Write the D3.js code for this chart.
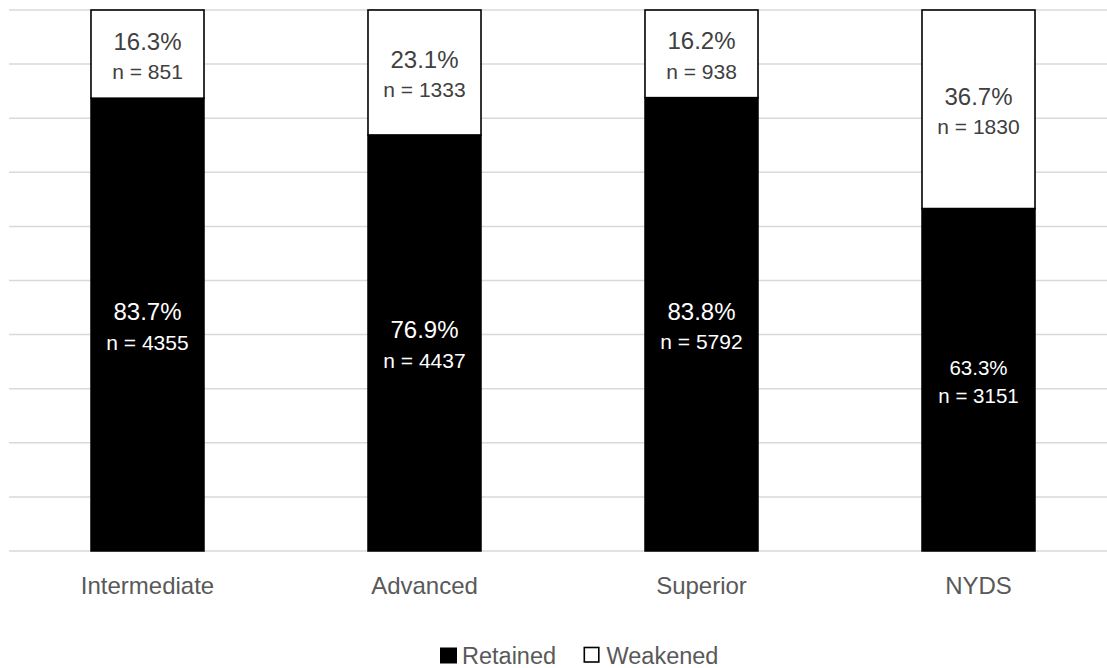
<!DOCTYPE html>
<html>
<head>
<meta charset="utf-8">
<script src="https://cdn.jsdelivr.net/npm/d3@7/dist/d3.min.js"></script>
<style>
  html, body { margin: 0; padding: 0; background: #fff; }
  svg { display: block; font-family: "Liberation Sans", Arial, sans-serif; }
</style>
</head>
<body>
<svg id="chart" width="1107" height="668"></svg>
<script>
// Proficiency levels and the share of speakers in each group
const categories = ["Intermediate", "Advanced", "Superior", "NYDS"];
const retainedPct = [83.7, 76.9, 83.8, 63.3];
const weakenedPct = [16.3, 23.1, 16.2, 36.7];
const retainedN = [4355, 4437, 5792, 3151];
const weakenedN = [851, 1333, 938, 1830];
const seriesNames = ["Retained", "Weakened"];
const gridTicks = d3.range(0, 101, 10);

// Bars whose inner labels are set a little smaller
const compactRetained = new Set(["NYDS"]);

const svg = d3.select("#chart");

const x = d3.scaleBand()
  .domain(categories)
  .range([9, 1117])
  .paddingInner(0.592)
  .paddingOuter(0.296);

const y = d3.scaleLinear().domain([0, 100]).range([551, 10]);

// Horizontal gridlines
svg.append("g")
  .selectAll("line")
  .data(gridTicks)
  .join("line")
  .attr("x1", 9)
  .attr("x2", 1117)
  .attr("y1", d => y(d))
  .attr("y2", d => y(d))
  .attr("stroke", "#d9d9d9")
  .attr("stroke-width", 1.5);

const rows = categories.map((c, i) => ({
  cat: c,
  retained: retainedPct[i],
  weakened: weakenedPct[i],
  rN: retainedN[i],
  wN: weakenedN[i]
}));

const bars = svg.append("g");

// Retained (bottom, black)
bars.selectAll("rect.retained")
  .data(rows)
  .join("rect")
  .attr("class", "retained")
  .attr("x", d => x(d.cat))
  .attr("width", x.bandwidth())
  .attr("y", d => y(d.retained))
  .attr("height", d => y(0) - y(d.retained))
  .attr("fill", "#000")
  .attr("stroke", "#000")
  .attr("stroke-width", 1.5);

// Weakened (top, white with outline)
bars.selectAll("rect.weakened")
  .data(rows)
  .join("rect")
  .attr("class", "weakened")
  .attr("x", d => x(d.cat))
  .attr("width", x.bandwidth())
  .attr("y", d => y(d.retained + d.weakened))
  .attr("height", d => y(d.retained) - y(d.retained + d.weakened))
  .attr("fill", "#fff")
  .attr("stroke", "#000")
  .attr("stroke-width", 1.6);

// Segment labels: percentage over count
const labels = svg.append("g").attr("text-anchor", "middle");

rows.forEach(d => {
  const cx = x(d.cat) + x.bandwidth() / 2;

  const rc = (y(0) + y(d.retained)) / 2;
  const small = compactRetained.has(d.cat);
  labels.append("text")
    .attr("x", cx)
    .attr("y", rc + (small ? -5 : -4.5))
    .attr("fill", "#fff")
    .attr("font-size", small ? 20.5 : 24)
    .text(d.retained.toFixed(1) + "%");
  labels.append("text")
    .attr("x", cx)
    .attr("y", rc + (small ? 23.5 : 25))
    .attr("fill", "#fff")
    .attr("font-size", small ? 20.5 : 21)
    .text("n = " + d.rN);

  const wc = (y(d.retained) + y(d.retained + d.weakened)) / 2;
  labels.append("text")
    .attr("x", cx)
    .attr("y", wc - 4.5)
    .attr("fill", "#404040")
    .attr("font-size", 24)
    .text(d.weakened.toFixed(1) + "%");
  labels.append("text")
    .attr("x", cx)
    .attr("y", wc + 25)
    .attr("fill", "#404040")
    .attr("font-size", 21)
    .text("n = " + d.wN);
});

// Category axis
const xAxis = svg.append("g")
  .attr("transform", `translate(0, ${y(0)})`)
  .call(d3.axisBottom(x).tickSize(0).tickPadding(0));
xAxis.select(".domain").remove();
xAxis.selectAll("text")
  .attr("y", 43)
  .attr("dy", 0)
  .attr("fill", "#595959")
  .attr("font-size", 24)
  .attr("font-family", "\"Liberation Sans\", Arial, sans-serif");

// Legend
const legend = svg.append("g").attr("transform", "translate(440, 647)");
const legendItems = legend.selectAll("g")
  .data(seriesNames)
  .join("g")
  .attr("transform", (d, i) => `translate(${i === 0 ? 0 : 143.5}, 0)`);
legendItems.append("rect")
  .attr("x", (d, i) => i === 0 ? 0 : 0.8)
  .attr("y", 0.5)
  .attr("width", (d, i) => i === 0 ? 17 : 14.5)
  .attr("height", (d, i) => i === 0 ? 16 : 14.5)
  .attr("fill", (d, i) => i === 0 ? "#000" : "#fff")
  .attr("stroke", "#000")
  .attr("stroke-width", (d, i) => i === 0 ? 0 : 1.6);
legendItems.append("text")
  .attr("x", (d, i) => i === 0 ? 22 : 23)
  .attr("y", 17)
  .attr("fill", "#595959")
  .attr("font-size", 23.5)
  .text(d => d);
</script>
</body>
</html>
